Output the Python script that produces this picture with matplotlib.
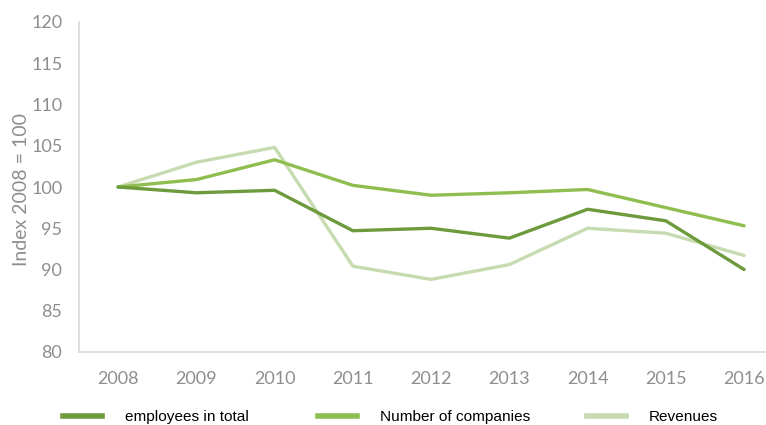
import matplotlib
matplotlib.use("Agg")
import matplotlib.pyplot as plt
from matplotlib.lines import Line2D

years = [2008, 2009, 2010, 2011, 2012, 2013, 2014, 2015, 2016]
employees = [100.0, 99.3, 99.6, 94.7, 95.0, 93.8, 97.3, 95.9, 90.0]
companies = [100.0, 100.9, 103.3, 100.2, 99.0, 99.3, 99.7, 97.5, 95.3]
revenues = [100.0, 103.0, 104.8, 90.4, 88.8, 90.6, 95.0, 94.4, 91.7]
series_names = ["employees in total", "Number of companies", "Revenues"]
colors = ["#6e9a3e", "#8fbd4f", "#c6dbb0"]
y_ticks = [80, 85, 90, 95, 100, 105, 110, 115, 120]

fig = plt.figure(figsize=(7.66, 4.25), dpi=100)
ax = fig.add_axes([79 / 766, 73 / 425, 687 / 766, 330 / 425])

tick_font = dict(family=["Lato", "DejaVu Sans"], weight="normal")
gray = "#8e8e8e"

for vals, col in zip([revenues, companies, employees], [colors[2], colors[1], colors[0]]):
    ax.plot(years, vals, color=col, lw=2.4, solid_capstyle="round", solid_joinstyle="round")

ax.set_xlim(2007.5, 2016.28)
ax.set_ylim(80, 120)
ax.set_xticks(years)
ax.set_yticks(y_ticks)
ax.set_xticklabels([str(y) for y in years], fontsize=13, color=gray, **tick_font)
ax.set_yticklabels([str(v) for v in y_ticks], fontsize=13, color=gray, **tick_font)
ax.tick_params(axis="both", length=0)
ax.tick_params(axis="x", pad=14)
ax.tick_params(axis="y", pad=12)

for side in ["top", "right"]:
    ax.spines[side].set_visible(False)
for side in ["left", "bottom"]:
    ax.spines[side].set_color("#d9d9d9")
    ax.spines[side].set_linewidth(1.2)

ax.set_ylabel("Index 2008 = 100", fontsize=14, color=gray, va="center", **tick_font)
ax.yaxis.set_label_coords(-57 / 687, (351 - 188) / 330)

# legend entries placed individually along the bottom
handle_x = [63, 318, 587]
for name, col, hx in zip(series_names, colors, handle_x):
    h = Line2D([], [], color=col, lw=4)
    fig.legend([h], [name], loc="center left",
               bbox_to_anchor=(hx / 766, 8 / 425), frameon=False,
               borderpad=0, borderaxespad=0, handlelength=2.5,
               handletextpad=1.5,
               prop=dict(family="Liberation Sans", size=11.1))

fig.savefig("out.png", dpi=100)
